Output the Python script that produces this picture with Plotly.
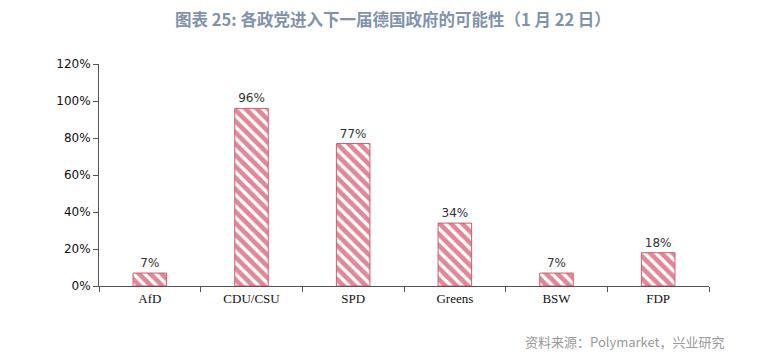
import plotly.graph_objects as go

categories = ["AfD", "CDU/CSU", "SPD", "Greens", "BSW", "FDP"]
values = [7, 96, 77, 34, 7, 18]
labels = ["7%", "96%", "77%", "34%", "7%", "18%"]
y_ticks = [0, 20, 40, 60, 80, 100, 120]
y_tick_labels = ["0%", "20%", "40%", "60%", "80%", "100%", "120%"]

fig = go.Figure()
fig.add_trace(go.Bar(
    x=categories, y=values, width=0.33,
    text=labels, textposition="outside",
    textfont=dict(family="DejaVu Sans", size=12, color="#333333"),
    cliponaxis=False,
    marker=dict(color="white", line=dict(color="#d45a70", width=1),
                pattern=dict(shape="\\", fgcolor="#c0142f", bgcolor="white", size=8, solidity=0.6)),
))
fig.update_layout(
    width=770, height=348, plot_bgcolor="white", paper_bgcolor="white",
    margin=dict(l=91, r=69, t=56, b=70),
    showlegend=False,
    title=dict(text="<b>图表 25: 各政党进入下一届德国政府的可能性（1 月 22 日）</b>",
               x=0.5, xanchor="center", y=0.966, yref="container", yanchor="middle",
               font=dict(family="Noto Sans CJK SC", size=16.5, color="#8193ab")),
    annotations=[dict(text="资料来源：Polymarket，兴业研究", xref="paper", yref="paper",
                      x=1.0295, xanchor="right", y=-0.252, yanchor="middle", showarrow=False,
                      font=dict(family="Noto Sans CJK SC", size=13, color="#999999"))],
)
fig.update_xaxes(showline=True, linecolor="#555555", linewidth=1, ticks="outside",
                 tickson="boundaries", ticklen=5, tickcolor="#555555",
                 tickfont=dict(family="Liberation Serif", size=13, color="#111111"))
fig.update_yaxes(range=[0, 120], tickvals=y_ticks, ticktext=y_tick_labels,
                 showline=True, linecolor="#555555", linewidth=1, ticks="outside",
                 ticklen=5, tickcolor="#555555", showgrid=False, zeroline=False,
                 tickfont=dict(family="DejaVu Sans", size=12, color="#111111"))
fig.write_html("out.html")
